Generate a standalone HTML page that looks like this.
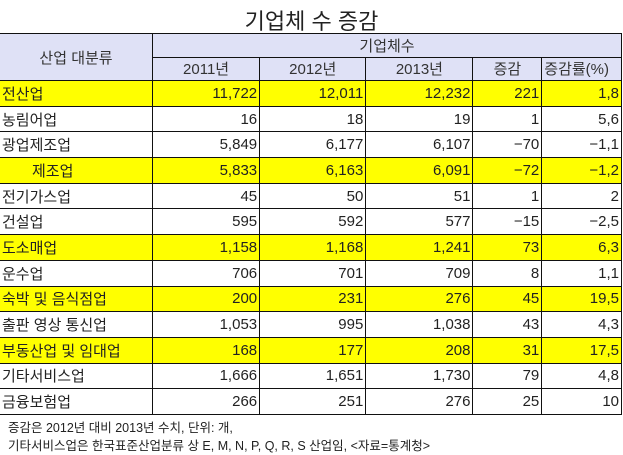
<!DOCTYPE html>
<html><head><meta charset="utf-8"><style>
body{margin:0;width:623px;height:455px;background:#fff;position:relative;overflow:hidden;font-family:"Liberation Sans","Noto Sans CJK KR","NanumGothic",sans-serif;color:#222}
.t{position:absolute;left:0;top:4px;width:623px;text-align:center;font-size:22px}
table{position:absolute;left:-1px;top:33px;border-collapse:collapse;table-layout:fixed;font-size:15px}
td{border:1.6px solid #111;padding:0 2px;height:22.5px;white-space:nowrap;overflow:hidden}
.h{background:#dfe1f6;text-align:center;color:#333}
.y td{background:#ffff00}
.n{text-align:right}
.note{position:absolute;left:8px;font-size:12.5px;color:#222}
</style></head><body>
<div class="t">기업체 수 증감</div>
<table>
<colgroup><col style="width:154px"><col style="width:109px"><col style="width:108px"><col style="width:109px"><col style="width:70px"><col style="width:80px"></colgroup>
<tr><td class="h" rowspan="2">산업 대분류</td><td class="h" colspan="5">기업체수</td></tr>
<tr><td class="h">2011년</td><td class="h">2012년</td><td class="h">2013년</td><td class="h">증감</td><td class="h" style="text-align:left">증감률(%)</td></tr>
<tbody id="rows"></tbody>
</table>
<div class="note" style="top:417px">증감은 2012년 대비 2013년 수치, 단위: 개,</div>
<div class="note" style="top:435px">기타서비스업은 한국표준산업분류 상 E, M, N, P, Q, R, S 산업임, &lt;자료=통계청&gt;</div>
<script>
const industries=["전산업","농림어업","광업제조업","　　제조업","전기가스업","건설업","도소매업","운수업","숙박 및 음식점업","출판 영상 통신업","부동산업 및 임대업","기타서비스업","금융보험업"];
const v2011=["11,722","16","5,849","5,833","45","595","1,158","706","200","1,053","168","1,666","266"];
const v2012=["12,011","18","6,177","6,163","50","592","1,168","701","231","995","177","1,651","251"];
const v2013=["12,232","19","6,107","6,091","51","577","1,241","709","276","1,038","208","1,730","276"];
const diff=["221","1","−70","−72","1","−15","73","8","45","43","31","79","25"];
const rate=["1,8","5,6","−1,1","−1,2","2","−2,5","6,3","1,1","19,5","4,3","17,5","4,8","10"];
const highlight=[1,0,0,1,0,0,1,0,1,0,1,0,0];
const tb=document.getElementById('rows');
industries.forEach((name,i)=>{
  const tr=document.createElement('tr');
  
  
  if(highlight[i])tr.className='y';
  [name,v2011[i],v2012[i],v2013[i],diff[i],rate[i]].forEach((v,j)=>{
    const td=document.createElement('td');
    
    
    td.textContent=v;
    if(j>0)td.className='n';
    td.style.height='24.7px';
    tr.appendChild(td);
  });
  tb.appendChild(tr);
});
</script>
</body></html>
